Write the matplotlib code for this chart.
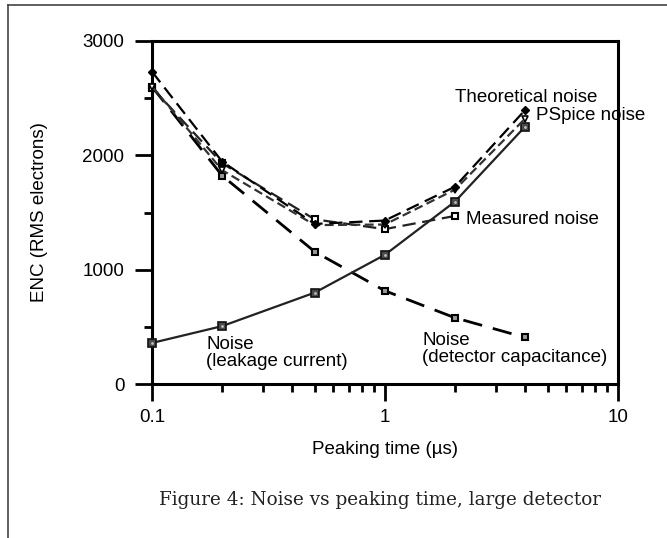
import matplotlib.pyplot as plt
from matplotlib.lines import Line2D

# Peaking time (us) and ENC values (RMS electrons)
peaking = [0.1, 0.2, 0.5, 1, 2, 4]
theoretical = [2730, 1945, 1400, 1430, 1725, 2395]
pspice = [2600, 1870, 1390, 1395, 1700, 2320]
measured = [2590, 1930, 1440, 1355, 1470]
leakage = [360, 507, 800, 1130, 1595, 2250]
detector_cap = [2600, 1822, 1157, 816, 580, 408]


def main():
    plt.rcParams['font.family'] = 'Liberation Sans'
    fig = plt.figure(figsize=(6.67, 5.38), dpi=100)
    ax = fig.add_axes([0.228, 0.286, 0.698, 0.638])

    # Noise from detector capacitance
    ax.plot(peaking, detector_cap, color='black', lw=2, dashes=(7, 4),
            marker='s', ms=5, mfc='#9a9a9a', mec='black', mew=1.5, zorder=3, clip_on=False)
    # Noise from leakage current
    ax.plot(peaking, leakage, color='#222222', lw=1.6,
            marker='s', ms=5.5, mfc='#4a4a4a', mec='#111111', mew=1.2, zorder=3, clip_on=False)
    ax.plot(peaking, leakage, ls='none', marker='o', ms=2, mfc='#b0c8b8', mec='none',
            zorder=4, clip_on=False)
    # Measured
    ax.plot(peaking[:len(measured)], measured, color='#222222', lw=1.6, dashes=(6, 3),
            marker='s', ms=5, mfc='white', mec='black', mew=1.5, zorder=3, clip_on=False)
    # PSpice
    ax.plot(peaking, pspice, color='#333333', lw=1.6, dashes=(4, 2),
            marker='v', ms=5, mfc='white', mec='black', mew=1.2, zorder=3, clip_on=False)
    # Theoretical
    ax.plot(peaking, theoretical, color='black', lw=1.6, dashes=(6, 3),
            marker='D', ms=4, mfc='black', mec='black', zorder=4, clip_on=False)

    ax.set_xscale('log')
    ax.set_xlim(0.1, 10)
    ax.set_ylim(0, 3000)
    ax.set_yticks([0, 1000, 2000, 3000])
    ax.set_yticks([500, 1500, 2500], minor=True)
    ax.set_xticks([0.1, 1, 10])
    ax.set_xticklabels(['0.1', '1', '10'])
    for s in ax.spines.values():
        s.set_linewidth(2.2)
    fs = 13.5
    ax.tick_params(which='major', direction='out', length=12, width=2, labelsize=fs, pad=8)
    ax.tick_params(which='minor', direction='out', length=6, width=2)
    ax.tick_params(axis='x', which='major', pad=6)

    ax.set_xlabel('Peaking time (\u00b5s)', fontsize=fs, labelpad=11)
    ax.set_ylabel('ENC (RMS electrons)', fontsize=fs, labelpad=25)

    # Curve labels
    fig.text(455 / 667, 1 - 97 / 538, 'Theoretical noise', fontsize=fs, va='center')
    fig.text(536 / 667, 1 - 116 / 538, 'PSpice noise', fontsize=fs, va='center')
    fig.text(466 / 667, 1 - 219 / 538, 'Measured noise', fontsize=fs, va='center')
    fig.text(206 / 667, 1 - 353 / 538, 'Noise\n(leakage current)', fontsize=fs,
             va='center', linespacing=1.0)
    fig.text(422 / 667, 1 - 349 / 538, 'Noise\n(detector capacitance)', fontsize=fs,
             va='center', linespacing=1.0)

    # Caption
    fig.text(380 / 667, 1 - 500 / 538, 'Figure 4: Noise vs peaking time, large detector',
             family='DejaVu Serif', fontsize=13.2, ha='center', va='center', color='#222222')

    # Page frame
    fig.add_artist(Line2D([8 / 667, 8 / 667], [0, 1 - 5 / 538], color='#444444', lw=1.2))
    fig.add_artist(Line2D([8 / 667, 1], [1 - 5 / 538, 1 - 5 / 538], color='#444444', lw=1.2))

    fig.savefig('out.png', dpi=100)


if __name__ == "__main__":
    main()
